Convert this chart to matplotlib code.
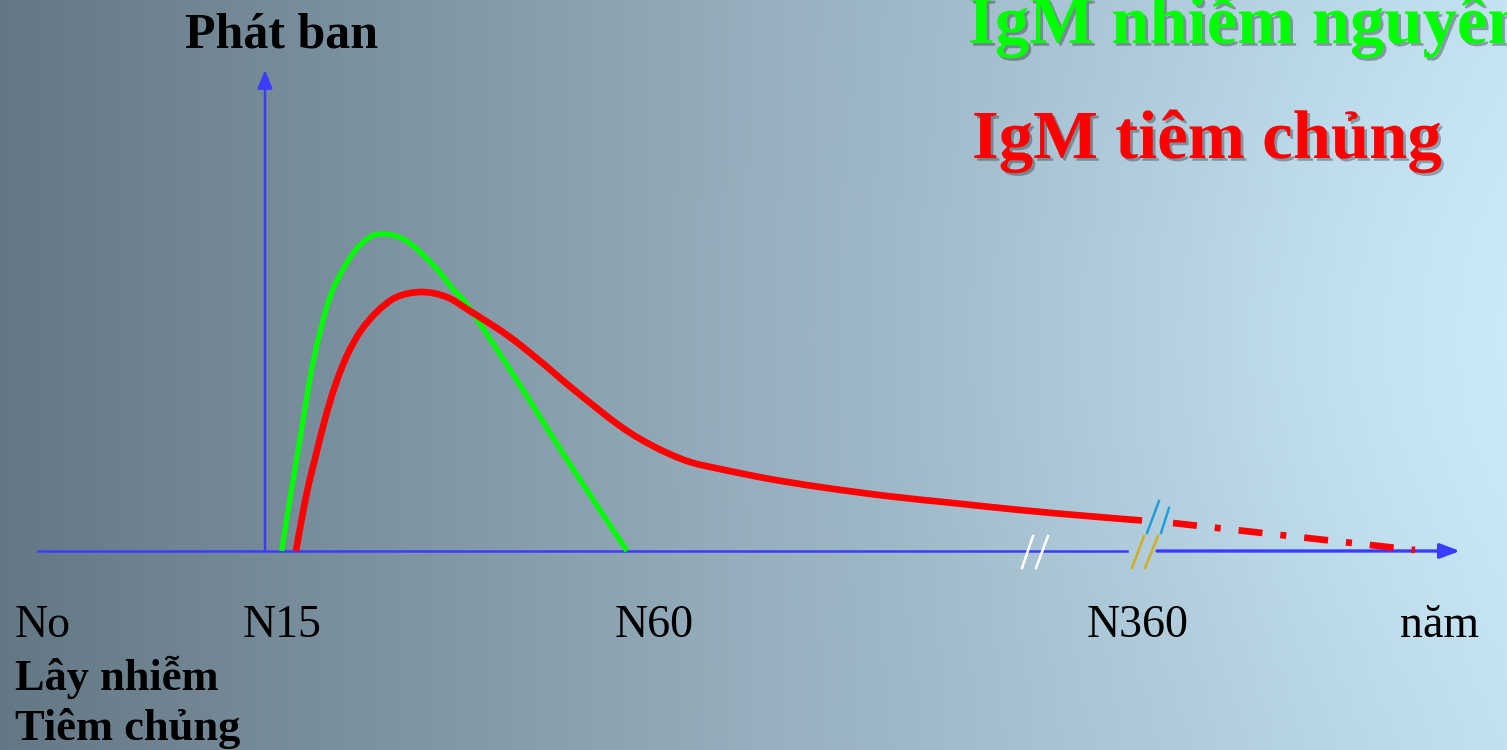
import numpy as np
import matplotlib
matplotlib.use('Agg')
import matplotlib.pyplot as plt
import matplotlib.patheffects as pe
from matplotlib.path import Path
from matplotlib.patches import PathPatch

# Du lieu doc tu hinh (truc x: vi tri thoi gian, truc y: muc IgM) ==========
igm_nhiem_x = [16.7, 21.7, 30, 38.3, 46.7, 55, 63.3, 71.7, 88.3, 105, 120, 138.3,
               155, 171.7, 188, 203, 242, 275, 308, 362]
igm_nhiem_y = [0, 32, 82, 132, 182, 219, 249, 270, 298, 314, 317, 312,
               299, 282, 262, 245, 186, 134, 82, 0]

igm_tiem_x = [31, 36.7, 43.3, 51.7, 60, 70, 81.7, 95, 111.7, 131.7, 156.7, 181.7,
              205, 242, 275, 308, 355, 388, 422, 455, 505, 555, 622, 688, 755, 822, 877]
igm_tiem_y = [0, 32, 65, 99, 132, 165, 195, 219, 239, 254, 259, 254,
              240, 216, 190, 162, 125, 105, 90, 82, 72, 64, 55, 48, 41, 35, 30.5]

# doan keo dai (net gach cham)
igm_tiem_keo_x = [908, 1150]
igm_tiem_keo_y = [28, 1]

nhan_moc = ['No', 'N15', 'N60', 'N360', 'năm']
vi_tri_moc = [-250, -22, 350, 822, 1135]

font = ['Liberation Serif', 'DejaVu Serif']


def duong_cong(x, y):
    # duong cong Bezier di qua cac diem (Catmull-Rom)
    p = np.column_stack([x, y]).astype(float)
    verts = [p[0]]
    codes = [Path.MOVETO]
    n = len(p)
    for i in range(n - 1):
        p0 = p[i - 1] if i > 0 else p[i]
        p3 = p[i + 2] if i + 2 < n else p[i + 1]
        c1 = p[i] + (p[i + 1] - p0) / 6
        c2 = p[i + 1] - (p3 - p[i]) / 6
        verts += [c1, c2, p[i + 1]]
        codes += [Path.CURVE4] * 3
    return Path(verts, codes)


fig = plt.figure(figsize=(15.07, 7.5), dpi=100)
ax = fig.add_axes([0, 0, 1, 1])
ax.set_xlim(-265, 1242)
ax.set_ylim(-199, 551)
ax.axis('off')

# Nen gradient ==========================================================
h, w = 150, 300
gx = np.linspace(0, 1, w)[None, :]
gy = np.linspace(0, 1, h)[:, None]
c_trai = np.array([100, 119, 132]) / 255
c_giua = np.array([150, 174, 189]) / 255
c_phai = np.array([190, 221, 237]) / 255
t = np.clip(gx, 0, 1)
img = np.where(t[..., None] < 0.5,
               c_trai + (c_giua - c_trai) * (t[..., None] / 0.5),
               c_giua + (c_phai - c_giua) * ((t[..., None] - 0.5) / 0.5))
img = img * np.ones((h, w, 1))
glow = np.exp(-(((gx - 0.92) / 0.25) ** 2 + ((gy - 0.45) / 0.5) ** 2))
img = np.clip(img + 0.05 * glow[..., None], 0, 1)
ax.imshow(img, extent=(-265, 1242, -199, 551), aspect='auto', zorder=0, origin='upper')

# Truc ==================================================================
truc = '#3c3cff'
ax.plot([-227, 862], [0, 0], color=truc, lw=1.8, zorder=2)
ax.annotate('', xy=(1195, 0), xytext=(892, 0),
            arrowprops=dict(arrowstyle='-|>,head_length=1.2,head_width=0.45',
                            color=truc, lw=2.4, shrinkA=0, shrinkB=0), zorder=2)
ax.annotate('', xy=(0, 481), xytext=(0, 0),
            arrowprops=dict(arrowstyle='-|>,head_length=1.1,head_width=0.45',
                            color=truc, lw=1.8, shrinkA=0, shrinkB=0), zorder=2)

# Dau ngat //
ax.plot([757, 768], [-17, 15], color='white', lw=1.8, zorder=3)
ax.plot([771, 783], [-17, 15], color='white', lw=1.8, zorder=3)
ax.plot([867, 879], [-17, 15], color='#d2ae1e', lw=1.8, zorder=3)
ax.plot([880, 893], [-17, 15], color='#d2ae1e', lw=1.8, zorder=3)
ax.plot([882, 894], [18, 50], color='#1ea0d6', lw=1.8, zorder=3)
ax.plot([896, 904], [18, 43], color='#1ea0d6', lw=1.8, zorder=3)

# Duong IgM =============================================================
ax.add_patch(PathPatch(duong_cong(igm_nhiem_x, igm_nhiem_y), fill=False,
                       edgecolor='#00ff00', lw=3.8, capstyle='butt', joinstyle='round', zorder=4))
ax.add_patch(PathPatch(duong_cong(igm_tiem_x, igm_tiem_y), fill=False,
                       edgecolor='#ff0000', lw=4.8, capstyle='butt', joinstyle='round', zorder=5))
ax.plot(igm_tiem_keo_x, igm_tiem_keo_y, color='#ff0000', lw=4.8, zorder=5,
        linestyle=(0, (3.6, 2.7, 0.9, 2.7)), dash_capstyle='butt')

# Chu ===================================================================
bong = [pe.withSimplePatchShadow(offset=(2, -2), shadow_rgbFace='black', alpha=0.3)]

ax.text(-80, 503, 'Phát ban', fontsize=36, fontweight='bold', family=font,
        color='black', va='baseline', ha='left', zorder=6)
ax.text(703, 508, 'IgM nhiễm nguyên', fontsize=49.5, fontweight='bold', family=font,
        color='#00ff00', va='baseline', ha='left', zorder=6, path_effects=bong)
ax.text(707, 393, 'IgM tiêm chủng', fontsize=49.5, fontweight='bold', family=font,
        color='#ff0000', va='baseline', ha='left', zorder=6, path_effects=bong)

for nhan, xv in zip(nhan_moc, vi_tri_moc):
    ax.text(xv, -86, nhan, fontsize=33, family=font, color='black',
            va='baseline', ha='left', zorder=6)

ax.text(-250, -139, 'Lây nhiễm', fontsize=32, fontweight='bold', family=font,
        color='black', va='baseline', ha='left', zorder=6)
ax.text(-250, -189, 'Tiêm chủng', fontsize=32, fontweight='bold', family=font,
        color='black', va='baseline', ha='left', zorder=6)

plt.savefig('out.png', dpi=100)
